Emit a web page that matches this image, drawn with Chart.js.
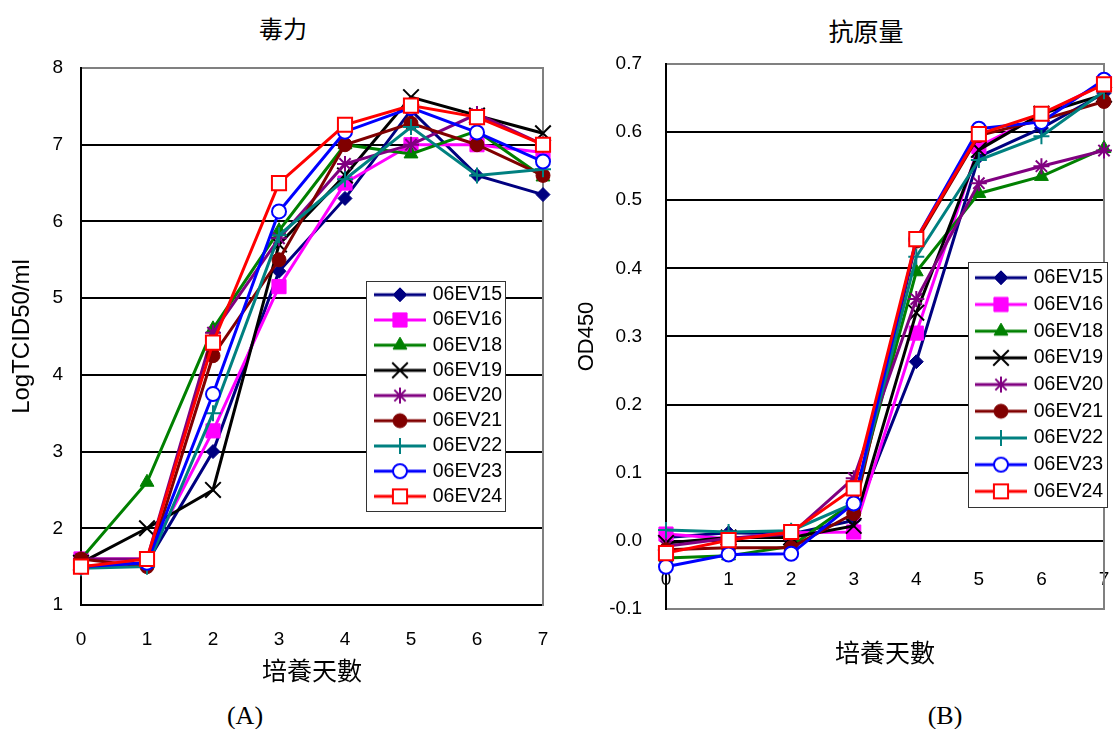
<!DOCTYPE html>
<html>
<head>
<meta charset="utf-8">
<script src="https://cdn.jsdelivr.net/npm/chart.js@4.4.1/dist/chart.umd.min.js"></script>
<style>
  body { margin: 0; background: #fff; }
  #page { position: relative; width: 1117px; height: 729px; overflow: hidden; background: #fff; }
  .pane { position: absolute; top: 0; }
  .ttl { position: absolute; width: 200px; text-align: center; font-family: 'Noto Sans CJK TC', sans-serif; line-height: 30px; color: #000; }
  .cap { position: absolute; width: 100px; text-align: center; font-family: 'Liberation Serif', 'Times New Roman', serif; font-size: 26px; line-height: 30px; color: #000; }
</style>
</head>
<body>
<div id="page">
  <div class="ttl" style="left:183px;top:13px;font-size:24px">毒力</div>
  <div class="ttl" style="left:766px;top:15px;font-size:25px">抗原量</div>
  <canvas id="graficoVirus" class="pane" style="left:0" width="562" height="690"></canvas>
  <canvas id="graficoAntigeno" class="pane" style="left:560px" width="557" height="690"></canvas>
  <div class="cap" style="left:195px;top:701px">(A)</div>
  <div class="cap" style="left:895px;top:701px">(B)</div>
</div>
<script>
// dados
const dias = ['0', '1', '2', '3', '4', '5', '6', '7'];
const cepas = ['06EV15', '06EV16', '06EV18', '06EV19', '06EV20', '06EV21', '06EV22', '06EV23', '06EV24'];

// (A) 毒力 - LogTCID50/ml
const tcid15 = [1.5, 1.55, 3.0, 5.35, 6.3, 7.45, 6.6, 6.35];
const tcid16 = [1.6, 1.6, 3.27, 5.15, 6.5, 7.0, 7.0, 6.9];
const tcid18 = [1.6, 2.6, 4.6, 5.88, 7.0, 6.88, 7.18, 6.58];
const tcid19 = [1.55, 2.0, 2.5, 5.7, 6.6, 7.62, 7.38, 7.15];
const tcid20 = [1.6, 1.6, 4.55, 5.78, 6.75, 7.0, 7.4, 7.0];
const tcid21 = [1.6, 1.5, 4.25, 5.5, 7.0, 7.28, 7.0, 6.6];
const tcid22 = [1.48, 1.5, 3.5, 5.82, 6.55, 7.23, 6.6, 6.68];
const tcid23 = [1.5, 1.55, 3.75, 6.13, 7.17, 7.48, 7.16, 6.78];
const tcid24 = [1.5, 1.6, 4.42, 6.5, 7.26, 7.51, 7.36, 7.0];
const ticksTcid = [1, 2, 3, 4, 5, 6, 7, 8];

// (B) 抗原量 - OD450
const od15 = [0.005, 0.012, 0.01, 0.03, 0.263, 0.564, 0.606, 0.657];
const od16 = [0.01, 0.003, 0.012, 0.013, 0.305, 0.579, 0.625, 0.672];
const od18 = [-0.025, -0.022, -0.008, 0.057, 0.395, 0.51, 0.535, 0.576];
const od19 = [-0.003, 0.005, 0.005, 0.022, 0.335, 0.574, 0.627, 0.655];
const od20 = [-0.008, 0.004, 0.01, 0.092, 0.355, 0.525, 0.55, 0.573];
const od21 = [-0.013, -0.01, -0.01, 0.04, 0.44, 0.595, 0.618, 0.645];
const od22 = [0.016, 0.013, 0.015, 0.055, 0.417, 0.559, 0.594, 0.66];
const od23 = [-0.038, -0.02, -0.019, 0.055, 0.443, 0.605, 0.615, 0.677];
const od24 = [-0.018, 0.001, 0.013, 0.077, 0.443, 0.597, 0.627, 0.67];
const ticksOd = [-0.1, 0, 0.1, 0.2, 0.3, 0.4, 0.5, 0.6, 0.7];

// estilo de cada cepa (cor, marcador)
const estilos = [
  { cor: '#000080', fundo: '#000080', ponto: 'rectRot', raio: 7, borda: 1 },
  { cor: '#FF00FF', fundo: '#FF00FF', ponto: 'rect', raio: 10, borda: 1 },
  { cor: '#008000', fundo: '#008000', ponto: 'triangle', raio: 8, borda: 1 },
  { cor: '#000000', fundo: '#000000', ponto: 'crossRot', raio: 11, borda: 2 },
  { cor: '#800080', fundo: '#800080', ponto: 'star', raio: 8, borda: 2 },
  { cor: '#800000', fundo: '#800000', ponto: 'circle', raio: 7, borda: 1 },
  { cor: '#008080', fundo: '#008080', ponto: 'cross', raio: 8, borda: 2 },
  { cor: '#0000FF', fundo: '#FFFFFF', ponto: 'circle', raio: 7, borda: 2 },
  { cor: '#FF0000', fundo: '#FFFFFF', ponto: 'rect', raio: 10, borda: 2 }
];

Chart.defaults.font.family = "'Liberation Sans', Arial, sans-serif";
Chart.defaults.color = '#000';

function montarSeries(valores) {
  return cepas.map((nome, i) => ({
    label: nome,
    data: valores[i],
    xAxisID: 'x',
    yAxisID: 'y',
    borderColor: estilos[i].cor,
    backgroundColor: estilos[i].fundo,
    borderWidth: 3,
    pointStyle: estilos[i].ponto,
    pointRadius: estilos[i].raio,
    pointHoverRadius: estilos[i].raio,
    pointBackgroundColor: estilos[i].fundo,
    pointBorderColor: estilos[i].cor,
    pointBorderWidth: estilos[i].borda,
    tension: 0,
    fill: false,
    order: cepas.length - i
  }));
}

// ícone da legenda: linha + marcador
function iconeLegenda(e) {
  const c = document.createElement('canvas');
  c.width = 52; c.height = 26;
  const g = c.getContext('2d');
  g.strokeStyle = e.cor; g.lineWidth = 3;
  g.beginPath(); g.moveTo(0, 13); g.lineTo(52, 13); g.stroke();
  g.fillStyle = e.fundo; g.strokeStyle = e.cor; g.lineWidth = e.borda;
  Chart.helpers.drawPoint(g, { pointStyle: e.ponto, radius: e.raio, rotation: 0, borderWidth: e.borda }, 26, 13);
  return c;
}

function itensLegenda(chart) {
  return chart.data.datasets.map((ds, i) => ({
    text: ds.label,
    pointStyle: iconeLegenda(estilos[i]),
    fillStyle: estilos[i].fundo,
    strokeStyle: estilos[i].cor,
    lineWidth: 0,
    hidden: false,
    datasetIndex: i
  }));
}

// caixa da legenda dentro da área do gráfico + moldura cinza à direita
function molduraPlugin(caixa) {
  return {
    id: 'moldura',
    afterLayout(chart) {
      const lg = chart.legend;
      const pad = lg.options.labels.padding;
      lg.left = caixa.itemX - pad;
      lg.top = caixa.itemY - pad;
      lg.right = lg.left + lg.width;
      lg.bottom = lg.top + lg.height;
    },
    beforeDatasetsDraw(chart) {
      const { ctx, chartArea: a } = chart;
      ctx.save();
      ctx.strokeStyle = '#808080';
      ctx.lineWidth = 2;
      ctx.beginPath();
      ctx.moveTo(a.right, a.top - 1);
      ctx.lineTo(a.right, a.bottom + 1);
      ctx.stroke();
      ctx.restore();
    },
    afterDatasetsDraw(chart) {
      const ctx = chart.ctx;
      ctx.save();
      ctx.fillStyle = '#fff';
      ctx.fillRect(caixa.x, caixa.y, caixa.w, caixa.h);
      ctx.strokeStyle = '#333';
      ctx.lineWidth = 1;
      ctx.strokeRect(caixa.x + 0.5, caixa.y + 0.5, caixa.w, caixa.h);
      ctx.restore();
      chart.legend.draw();
    }
  };
}

function legenda(pad) {
  return {
    position: 'chartArea',
    fullSize: false,
    align: 'start',
    labels: {
      usePointStyle: true,
      pointStyleWidth: 46,
      padding: pad,
      color: '#000',
      font: { size: 19.5 },
      generateLabels: itensLegenda
    }
  };
}

// Gráfico de Linhas - Virulência (A)
new Chart(document.getElementById('graficoVirus').getContext('2d'), {
  type: 'line',
  data: {
    labels: dias,
    datasets: montarSeries([tcid15, tcid16, tcid18, tcid19, tcid20, tcid21, tcid22, tcid23, tcid24])
  },
  options: {
    responsive: false,
    animation: false,
    devicePixelRatio: 1,
    layout: { padding: { left: 0, right: 19, top: 68, bottom: 5 } },
    plugins: {
      legend: legenda(5.7),
      tooltip: { enabled: false }
    },
    scales: {
      x: {
        type: 'category',
        offset: false,
        grid: { display: false, drawTicks: false },
        border: { color: '#000', width: 2 },
        ticks: { padding: 23, font: { size: 19 }, maxRotation: 0, autoSkip: false },
        title: { display: true, text: '培養天數', font: { family: "'Noto Sans CJK TC', sans-serif", size: 25 }, padding: { top: 0, bottom: 0 } },
        afterFit: s => { s.height = 80; s.paddingLeft = 0; s.paddingRight = 0; }
      },
      y: {
        min: ticksTcid[0],
        max: ticksTcid[ticksTcid.length - 1],
        afterBuildTicks: s => { s.ticks = ticksTcid.map(v => ({ value: v })); },
        grid: { color: c => (c.tick && c.tick.value === ticksTcid[ticksTcid.length - 1]) ? '#808080' : '#000', lineWidth: 2, drawTicks: false },
        border: { color: '#000', width: 2 },
        ticks: { padding: 18, font: { size: 19 }, callback: v => String(v) },
        title: { display: true, text: 'LogTCID50/ml', font: { size: 24 }, padding: { top: 8, bottom: 0 } },
        afterFit: s => { s.width = 81; s.paddingTop = 0; s.paddingBottom = 0; }
      }
    }
  },
  plugins: [molduraPlugin({ x: 366, y: 281, w: 139, h: 230, itemX: 377, itemY: 285 })]
});

// Gráfico de Linhas - Antígeno OD450 (B)
new Chart(document.getElementById('graficoAntigeno').getContext('2d'), {
  type: 'line',
  data: {
    labels: dias,
    datasets: montarSeries([od15, od16, od18, od19, od20, od21, od22, od23, od24])
  },
  options: {
    responsive: false,
    animation: false,
    devicePixelRatio: 1,
    layout: { padding: { left: 0, right: 3, top: 64, bottom: 23 } },
    plugins: {
      legend: legenda(7.2),
      tooltip: { enabled: false }
    },
    scales: {
      x: {
        type: 'category',
        offset: false,
        grid: { display: false, drawTicks: false },
        border: { color: '#808080', width: 2 },
        ticks: { display: false },
        title: { display: true, text: '培養天數', font: { family: "'Noto Sans CJK TC', sans-serif", size: 25 }, padding: { top: 0, bottom: 0 } },
        afterFit: s => { s.height = 58; s.paddingLeft = 0; s.paddingRight = 0; }
      },
      x2: {
        type: 'category',
        labels: dias,
        position: { y: 0 },
        offset: false,
        grid: { display: false, drawTicks: false },
        border: { display: false },
        ticks: { padding: 27, font: { size: 19 }, maxRotation: 0, autoSkip: false },
        afterFit: s => { s.height = 0; s.paddingLeft = 0; s.paddingRight = 0; }
      },
      y: {
        min: ticksOd[0],
        max: ticksOd[ticksOd.length - 1],
        afterBuildTicks: s => { s.ticks = ticksOd.map(v => ({ value: v })); },
        grid: {
          color: c => (c.tick && (c.tick.value === ticksOd[0] || c.tick.value === ticksOd[ticksOd.length - 1])) ? '#808080' : '#000',
          lineWidth: 2,
          drawTicks: false
        },
        border: { color: '#000', width: 2 },
        ticks: { padding: 24, font: { size: 19 }, callback: v => v.toFixed(1) },
        title: { display: true, text: 'OD450', font: { size: 22 }, padding: { top: 14, bottom: 0 } },
        afterFit: s => { s.width = 106; s.paddingTop = 0; s.paddingBottom = 0; }
      }
    }
  },
  plugins: [molduraPlugin({ x: 408, y: 262, w: 139, h: 245, itemX: 418, itemY: 268 })]
});
</script>
</body>
</html>
